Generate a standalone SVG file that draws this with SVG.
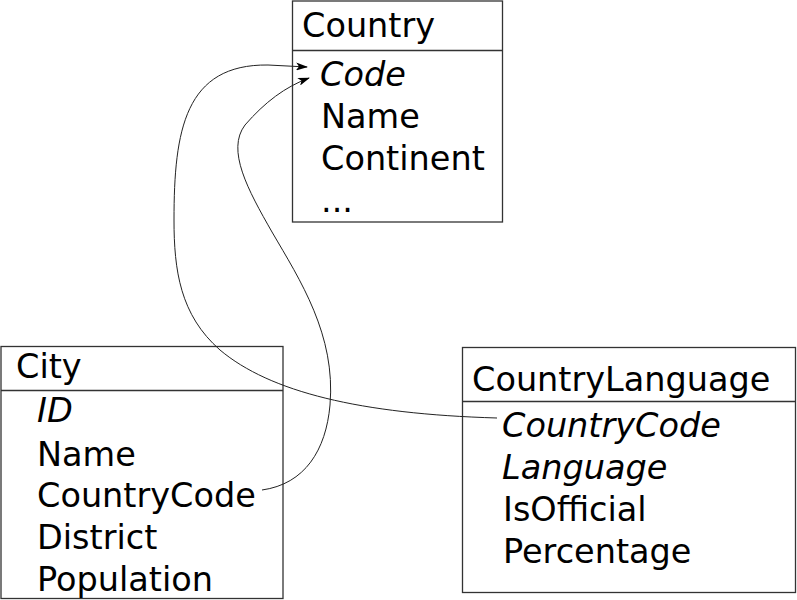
<svg xmlns="http://www.w3.org/2000/svg" width="797" height="600" viewBox="0 0 797 600">
<style>
.box{fill:#fff;stroke:#333;stroke-width:1.3}
.sep{stroke:#333;stroke-width:1.3}
text{font-family:"DejaVu Sans",sans-serif;font-size:33.5px;fill:#000}
.k{font-style:italic}
.con{fill:none;stroke:#222;stroke-width:1}
</style>
<defs>
<marker id="arr" viewBox="0 0 12 8" refX="11" refY="4" markerWidth="12" markerHeight="8" markerUnits="userSpaceOnUse" orient="auto">
<path d="M0,0 L12,4 L0,8 L3,4 Z" fill="#000"/>
</marker>
</defs>
<g id="country">
<rect class="box" x="292.5" y="1" width="210" height="221"/>
<line class="sep" x1="292.5" y1="50.5" x2="502.5" y2="50.5"/>
<text x="302" y="37">Country</text>
<text class="k" x="320" y="86">Code</text>
<text x="321" y="128">Name</text>
<text x="321" y="170">Continent</text>
<text x="321" y="212">...</text>
</g>
<g id="city">
<rect class="box" x="1" y="346.5" width="282" height="252"/>
<line class="sep" x1="1" y1="390.5" x2="283" y2="390.5"/>
<text x="16" y="378">City</text>
<text class="k" x="37" y="422">ID</text>
<text x="37" y="466">Name</text>
<text x="37" y="507">CountryCode</text>
<text x="37" y="549">District</text>
<text x="37" y="591">Population</text>
</g>
<g id="countrylanguage">
<rect class="box" x="462.5" y="347.5" width="333" height="245"/>
<line class="sep" x1="462.5" y1="401.5" x2="795.5" y2="401.5"/>
<text x="472" y="391">CountryLanguage</text>
<text class="k" x="502" y="437">CountryCode</text>
<text class="k" x="502" y="479">Language</text>
<text x="503" y="521">IsOfficial</text>
<text x="503" y="563">Percentage</text>
</g>
<g id="connectors">
<path class="con" marker-end="url(#arr)" d="M497,418 C360,414 270,392 220,350 C180,315 174,270 174,220 C174,130 185,64 268,65 L307,67"/>
<path class="con" marker-end="url(#arr)" d="M262,490 C305,484 326,450 330,405 C336,335 300,280 272,232 C248,190 226,150 245,125 C265,102 285,87 309,78"/>
</g>
</svg>
